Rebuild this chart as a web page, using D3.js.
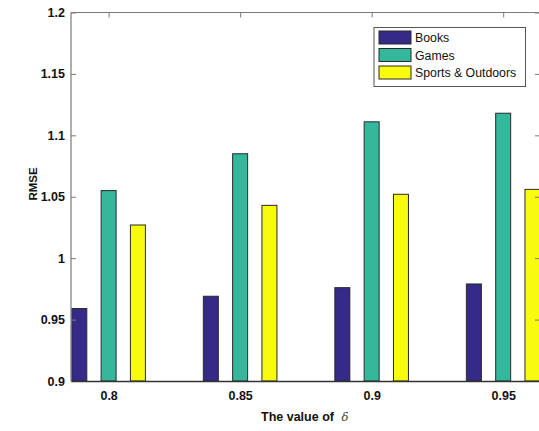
<!DOCTYPE html>
<html>
<head>
<meta charset="utf-8">
<script src="https://cdn.jsdelivr.net/npm/d3@7"></script>
<style>
  html, body { margin: 0; padding: 0; background: #fff; }
  svg { display: block; }
  text { font-family: "Liberation Sans", Arial, sans-serif; }
</style>
</head>
<body>
<svg id="chart" width="539" height="431"></svg>
<script>
// ---- data ----
const deltas = [0.8, 0.85, 0.9, 0.95];
const xTickLabels = ["0.8", "0.85", "0.9", "0.95"];
const seriesNames = ["Books", "Games", "Sports & Outdoors"];
const books  = [0.959, 0.969, 0.976, 0.979];
const games  = [1.055, 1.085, 1.111, 1.118];
const sports = [1.027, 1.043, 1.052, 1.056];
const yTicks = [0.9, 0.95, 1, 1.05, 1.1, 1.15, 1.2];
const yTickLabels = ["0.9", "0.95", "1", "1.05", "1.1", "1.15", "1.2"];
const colors = ["#352a87", "#35b79b", "#f9fb0e"];

const series = [books, games, sports];

const svg = d3.select("#chart");
const mLeft = 71, mRight = 540, mTop = 12.5, mBottom = 381;

const x = d3.scaleLinear().domain([0.7857, 0.964]).range([mLeft, mRight]);
const y = d3.scaleLinear().domain([0.9, 1.2]).range([mBottom, mTop]);
const step = x(deltas[1]) - x(deltas[0]);
const offset = 0.2228 * step;
const barW = 0.114 * step;

// bars
series.forEach((vals, si) => {
  svg.append("g").selectAll("rect")
    .data(vals)
    .join("rect")
    .attr("x", (d, i) => x(deltas[i]) + (si - 1) * offset - barW / 2)
    .attr("y", d => y(d))
    .attr("width", barW)
    .attr("height", d => y(0.9) - y(d))
    .attr("fill", colors[si])
    .attr("stroke", "#2a2a2a")
    .attr("stroke-width", 1);
});

// box axes
const axisColor = "#7a7a7a";
svg.append("line").attr("x1", mLeft).attr("x2", mRight).attr("y1", mTop).attr("y2", mTop)
  .attr("stroke", axisColor).attr("stroke-width", 1.2);
svg.append("line").attr("x1", mLeft).attr("x2", mLeft).attr("y1", mTop).attr("y2", mBottom)
  .attr("stroke", axisColor).attr("stroke-width", 1.2);
svg.append("line").attr("x1", mRight).attr("x2", mRight).attr("y1", mTop).attr("y2", mBottom)
  .attr("stroke", axisColor).attr("stroke-width", 1.2);

// left axis (ticks inward)
const yAxisL = d3.axisLeft(y).tickValues(yTicks).tickSize(-5).tickPadding(6)
  .tickFormat((d, i) => yTickLabels[i]);
const gyl = svg.append("g").attr("transform", `translate(${mLeft},0)`).call(yAxisL);
gyl.select(".domain").remove();
gyl.selectAll("line").attr("stroke", axisColor);
gyl.selectAll("text").attr("font-size", 12.5).attr("font-weight", "bold").attr("fill", "#111");

// right axis ticks (inward)
const yAxisR = d3.axisRight(y).tickValues(yTicks).tickSize(-5).tickFormat("");
const gyr = svg.append("g").attr("transform", `translate(${mRight},0)`).call(yAxisR);
gyr.select(".domain").remove();
gyr.selectAll("line").attr("stroke", axisColor);

// top axis ticks (inward)
const xAxisT = d3.axisTop(x).tickValues(deltas).tickSize(-5).tickFormat("");
const gxt = svg.append("g").attr("transform", `translate(0,${mTop})`).call(xAxisT);
gxt.select(".domain").remove();
gxt.selectAll("line").attr("stroke", axisColor);

// bottom axis
const xAxisB = d3.axisBottom(x).tickValues(deltas).tickSize(0).tickPadding(10)
  .tickFormat((d, i) => xTickLabels[i]);
const gxb = svg.append("g").attr("transform", `translate(0,${mBottom})`).call(xAxisB);
gxb.select(".domain").attr("stroke", "#333").attr("stroke-width", 1.4);
gxb.selectAll("text").attr("font-size", 12.5).attr("font-weight", "bold").attr("fill", "#111");

// axis titles
const xt = svg.append("text").attr("x", 261).attr("y", 421).attr("font-size", 12.5)
  .attr("font-weight", "bold").attr("fill", "#111");
xt.append("tspan").text("The value of ");
xt.append("tspan").attr("font-family", "DejaVu Serif").attr("font-style", "italic")
  .attr("font-weight", "normal").attr("font-size", 11.5).attr("fill", "#444").attr("dx", 4).text("δ");

svg.append("text").attr("transform", "translate(36.5,184) rotate(-90)")
  .attr("text-anchor", "middle").attr("font-size", 11.5).attr("font-weight", "bold")
  .attr("fill", "#111").text("RMSE");

// legend
const lg = svg.append("g");
lg.append("rect").attr("x", 374).attr("y", 27.5).attr("width", 151.5).attr("height", 59)
  .attr("fill", "#fff").attr("stroke", "#555").attr("stroke-width", 1);
seriesNames.forEach((name, i) => {
  const yy = 31 + i * 17.5;
  lg.append("rect").attr("x", 379).attr("y", yy).attr("width", 32).attr("height", 13)
    .attr("fill", colors[i]).attr("stroke", "#2a2a2a").attr("stroke-width", 1);
  lg.append("text").attr("x", 415).attr("y", yy + 11).attr("font-size", 12.3)
    .attr("fill", "#111").text(name);
});
</script>
</body>
</html>
